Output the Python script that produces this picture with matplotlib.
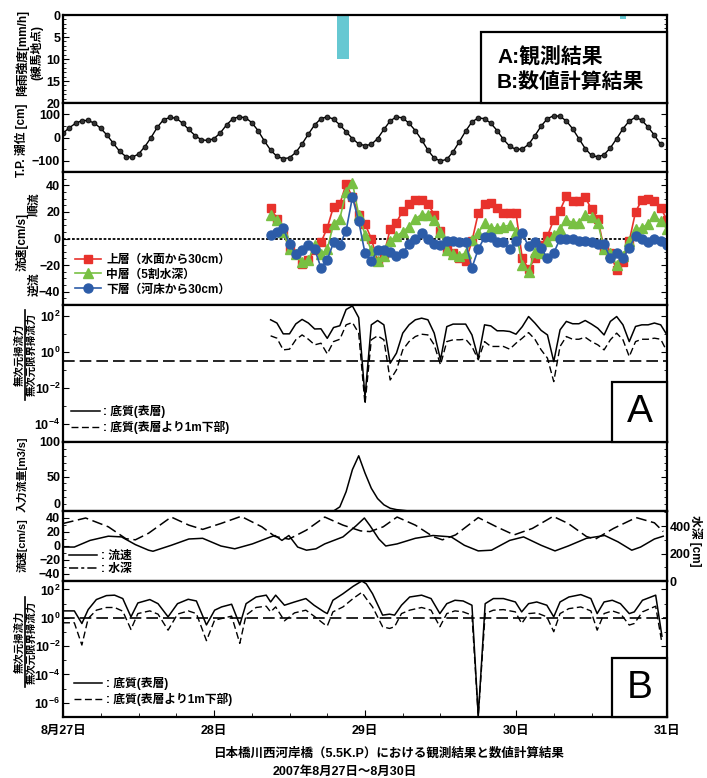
import numpy as np
import matplotlib
matplotlib.use("Agg")
import matplotlib.pyplot as plt
from matplotlib.ticker import MultipleLocator, FixedLocator, NullFormatter, LogLocator
from matplotlib.patches import Rectangle
from matplotlib.lines import Line2D

plt.rcParams['font.family'] = ['Liberation Sans', 'Noto Sans CJK JP']
plt.rcParams['font.weight'] = 'bold'
plt.rcParams['mathtext.fontset'] = 'custom'
plt.rcParams['mathtext.rm'] = 'Liberation Sans:bold'
plt.rcParams['mathtext.bf'] = 'Liberation Sans:bold'

# ---- data (hours from 2007-08-27 00:00) ----
day_ticks = [0, 24, 48, 72, 96]
day_labels = ["8月27日", "28日", "29日", "30日", "31日"]

rain_hours = [44, 45, 89]
rain_mm = [10, 10, 1]

tide_hours = list(range(96))
tide_cm = [19, 42, 62, 73, 74, 62, 40, 10, -25, -60, -83, -86, -72, -40, 0, 45,
           78, 87, 84, 62, 35, 8, -10, -13, -5, 20, 55, 82, 90, 86, 65, 30,
           -15, -55, -82, -92, -88, -65, -28, 15, 55, 82, 90, 80, 55, 25, -5, -28,
           -35, -30, -5, 35, 72, 90, 85, 62, 30, -10, -55, -90, -102, -95, -62, -18,
           28, 68, 85, 82, 62, 30, -8, -38, -52, -50, -30, 8, 50, 82, 95, 92,
           72, 38, -5, -48, -78, -84, -75, -45, -5, 38, 72, 88, 75, 45, 10, -30]

obs_hours = list(range(33, 97))
vel_upper = [23, 15, 5, -8, -12, -19, -16, -9, -3, 8,
             24, 26, 41, 31, 18, 11, 0, -17, -12, 7,
             12, 21, 26, 29, 29, 26, 18, 6, -8, -11,
             -15, -17, -2, 19, 26, 27, 23, 19, 19, 19,
             -15, -23, -15, -5, 2, 14, 21, 32, 28, 28,
             31, 22, 15, -8, -11, -24, -18, -2, 20, 29,
             30, 28, 23, 14]
vel_middle = [18, 14, 5, -8, -12, -18, -16, -5, -12, -8,
              11, 15, 35, 42, 18, 3, -9, -17, -13, -2,
              2, 5, 9, 15, 18, 18, 14, 5, -9, -12,
              -13, -11, -1, 4, 12, 8, 8, 9, 10, 5,
              -20, -25, -10, -11, -2, 3, 7, 14, 12, 12,
              18, 16, 12, -8, -11, -20, -13, -2, 7, 8,
              11, 17, 13, 7]
vel_lower = [3, 5, 8, -4, -12, -9, -5, -8, -22, -16,
             -3, -5, 6, 31, 13, -11, -17, -9, -9, -10,
             -13, -11, -4, 0, 4, 0, -4, -5, -2, -2,
             -3, -3, -22, -8, 1, 1, -3, -3, -8, -2,
             4, -6, -3, -7, -15, -11, 0, 0, 0, -2,
             -2, -3, -4, -4, -15, -11, -15, -7, 2, 0,
             -3, 0, -2, -5]

# observed shear-stress ratio (log10)
a_surface_log10 = [1.78, 1.6, 1.0, 1.0, 1.55, 1.8, 1.6, 1.27, 1.28, 0.75,
                   1.35, 1.45, 2.35, 2.55, 1.9, -2.5, 1.5, 1.74, 1.5, -0.63,
                   -0.07, 1.04, 1.5, 1.78, 1.87, 1.78, 1.04, -0.44, 1.4, 1.54,
                   1.54, 1.54, 0.94, -0.35, 1.5, 1.44, 1.17, 1.17, 1.13, 0.98,
                   1.4, 1.96, 1.6, 1.19, 0.94, -0.54, 1.22, 1.69, 1.56, 1.56,
                   1.74, 1.54, 1.31, 0.94, 1.69, 1.96, 1.5, 0.57, 1.41, 1.5,
                   1.5, 1.6, 1.5, 0.94]
a_deep_log10 = [0.89, 0.76, 0.11, 0.15, 0.67, 0.94, 0.7, 0.39, 0.48, -0.11,
                0.57, 0.7, 1.5, 1.63, 1.04, -2.9, 0.67, 0.89, 0.67, -1.56,
                -1.0, 0.11, 0.57, 0.85, 0.98, 0.94, 0.39, -0.72, 0.57, 0.67,
                0.67, 0.7, 0.3, -0.44, 0.57, 0.3, 0.3, 0.3, 0.15, 0.48,
                0.76, 1.07, 0.7, 0.11, -0.35, -1.65, 0.3, 0.85, 0.7, 0.7,
                0.81, 0.57, 0.39, 0.11, 0.67, 1.04, 0.67, -0.26, 0.57, 0.7,
                0.7, 0.76, 0.7, 0.02]
a_critical = 0.32

inflow_hours = [0, 43, 44, 45, 46, 47, 48, 49, 50, 51, 52, 53, 54, 55, 96]
inflow = [0, 0, 6, 28, 60, 80, 55, 33, 18, 9, 4, 2, 1, 0, 0]

vel_model_hours = [0, 1.8, 4.3, 7.2, 9.3, 11.5, 13.6, 14.3, 17.2, 20, 22.2, 25.1,
                   27.3, 30.1, 33, 33.7, 34.8, 35.9, 37.3, 38.7, 40.2, 41.6, 44.5,
                   46.6, 47.9, 48.8, 50.2, 51.3, 53.1, 56, 58.8, 61.7, 63.8, 66,
                   68.1, 71, 73.2, 76, 78.2, 80.3, 83.2, 86.1, 88.2, 90.4, 91.8,
                   94, 95.4]
vel_model = [-1.5, -1.5, 8, 14, 13, 2, -6, -7.5, 1, 10, 11, 0, -4, 3, 13, 15, 8,
             15, -1.5, -6, -4, 3, 13, 29, 40, 29, 10, 0, 3, 11, 15, 13, 1, -7,
             -6, 8, 13, 1, -7, 0, 11, 15, 6, -6, -1.5, 10, 14]

depth_hours = [0, 3.6, 7.2, 10, 11.5, 13.6, 17.2, 20, 22.2, 25.1, 28.3, 31.6, 33.7,
               35.9, 38.7, 41.6, 44.5, 47.3, 48.8, 50.9, 53.1, 56, 58.8, 60.3,
               62.4, 66, 68.9, 71.7, 74.6, 77.9, 80.3, 83.2, 84.6, 87.5, 91.1,
               94, 95.4]
depth_cm = [419, 459, 395, 308, 300, 348, 466, 407, 376, 419, 471, 395, 324, 305,
            371, 466, 407, 365, 360, 395, 466, 407, 324, 300, 336, 462, 395, 336,
            383, 471, 419, 324, 305, 383, 462, 424, 360]

b_hours = [0, 1.8, 3, 4, 5.3, 6.9, 8.2, 9.5, 10.8, 11.9, 13.8, 15.1, 16.7, 18.2,
           19.9, 21.2, 22.8, 24.1, 25.2, 26.8, 28.1, 29.1, 30.7, 32.3, 33, 33.8,
           35.2, 36.8, 38.6, 39.9, 41.5, 42, 42.9, 44.5, 46.1, 47.5, 48.2, 49.2,
           50.8, 51.9, 52.7, 53.8, 55.1, 57, 58.5, 59.9, 61, 62.3, 63.6, 65, 66,
           67.1, 68.4, 70, 71.9, 72.9, 74, 75.3, 76.9, 78, 79, 80.4, 82.3, 83.9,
           84.9, 86, 87.3, 88.6, 90, 90.8, 92.1, 94.2, 95.2]
b_surface_log10 = [0.49, 0.49, -0.4, 0.58, 1.29, 1.57, 1.6, 1.36, 0.07, 1.05,
                   1.29, 1.0, 0.07, 1.0, 1.31, 1.19, -0.5, 0.54, 0.77, 0.96, -0.5,
                   1.0, 1.47, 1.6, 1.12, 1.6, 0.89, 1.12, 1.36, 0.89, 0.42, 0.3,
                   1.24, 1.7, 2.22, 2.6, 2.4, 1.7, 0.19, 0.26, 0.19, 0.89, 1.47,
                   1.6, 1.36, 0.3, 1.0, 1.24, 1.19, 0.89, -6.95, 1.0, 1.36, 1.36,
                   1.12, 0.42, 1.0, 1.12, 0.89, 0.07, 1.12, 1.47, 1.64, 1.36, 0.3,
                   1.12, 1.24, 1.0, 0.3, 0.42, 1.24, 1.6, -1.3]
b_deep_log10 = [-0.35, -0.35, -1.92, -0.05, 0.54, 0.73, 0.73, 0.47, -0.82, 0.3,
                0.49, 0.26, -0.87, 0.26, 0.49, 0.3, -1.61, -0.16, -0.05, 0.12,
                -1.8, 0.19, 0.73, 0.82, 0.42, 0.77, -0.21, 0.35, 0.54, 0.12, -0.44,
                -0.58, 0.42, 0.77, 1.36, 1.8, 1.36, 0.77, -0.63, -0.75, -0.63, 0.3,
                0.54, 0.73, 0.54, -0.63, 0.3, 0.49, 0.42, 0.19, -6.95, 0.3, 0.54,
                0.58, 0.42, -0.4, 0.3, 0.35, 0.07, -0.98, 0.3, 0.65, 0.77, 0.49,
                -0.87, 0.3, 0.49, 0.3, -0.51, -0.4, 0.42, 0.82, -1.8]
b_critical = 1.0

# ---- layout (pixels) ----
W, H = 707, 778
L, R = 63, 667
bounds = [(15, 103), (103, 172), (172, 305), (305, 442), (442, 511), (511, 581), (581, 717)]


def fx(px):
    return px / W


def fy(py):
    return 1 - py / H


fig = plt.figure(figsize=(W / 100, H / 100), dpi=100)
axes = []
for top, bot in bounds:
    ax = fig.add_axes([fx(L), fy(bot), (R - L) / W, (bot - top) / H])
    ax.set_xlim(0, 96)
    ax.xaxis.set_major_locator(FixedLocator(day_ticks))
    ax.xaxis.set_minor_locator(MultipleLocator(6))
    ax.tick_params(axis='both', which='both', direction='in', labelsize=9,
                   right=True, bottom=False, labelbottom=False, pad=2)
    ax.tick_params(which='major', length=4)
    ax.tick_params(which='minor', length=2)
    for s in ax.spines.values():
        s.set_linewidth(1.6)
    axes.append(ax)
ax1, ax2, ax3, ax4, ax5, ax6, ax7 = axes

dash_long = (0, (7, 3))
dash_curve = (0, (5, 2.5))

# 1. rainfall
ax1.bar(rain_hours, rain_mm, width=1.0, color='#66C8D2', align='center')
ax1.set_ylim(20, 0)
ax1.yaxis.set_major_locator(MultipleLocator(5))
ax1.yaxis.set_minor_locator(MultipleLocator(1))

# 2. tide
ax2.plot(tide_hours, tide_cm, color='black', lw=1.0, marker='o', ms=3.5,
         mfc='#333333', mec='black', mew=0.6)
ax2.set_ylim(-150, 150)
ax2.yaxis.set_major_locator(MultipleLocator(100))
ax2.yaxis.set_minor_locator(MultipleLocator(50))

# 3. observed velocity
ax3.axhline(0, color='black', ls=(0, (1.5, 1)), lw=1.3)
ax3.plot(obs_hours, vel_upper, color='#E8322C', lw=1.2, marker='s', ms=6,
         label='上層（水面から30cm）')
ax3.plot(obs_hours, vel_middle, color='#78C043', lw=1.2, marker='^', ms=6.5,
         label='中層（5割水深）')
ax3.plot(obs_hours, vel_lower, color='#2C5CA8', lw=1.2, marker='o', ms=6.5,
         label='下層（河床から30cm）')
ax3.set_ylim(-50, 50)
ax3.yaxis.set_major_locator(MultipleLocator(20))
ax3.yaxis.set_minor_locator(MultipleLocator(5))
ax3.legend(loc='lower left', frameon=False, fontsize=8.5, handlelength=2.2,
           handletextpad=0.4, labelspacing=0.25, borderaxespad=0.4,
           bbox_to_anchor=(0.005, 0.0))


def log_axis(ax, lo, exps):
    ax.set_yscale('log')
    ax.set_ylim(10.0 ** lo, 10.0 ** 2.6)
    ax.yaxis.set_major_locator(FixedLocator([10.0 ** e for e in exps]))
    ax.set_yticklabels([r'$\mathbf{10^{%d}}$' % e for e in exps])
    ax.yaxis.set_minor_locator(LogLocator(base=10, subs=(1.0,), numticks=20))
    ax.yaxis.set_minor_formatter(NullFormatter())


# 4. observed ratio (A)
ax4.plot(obs_hours, 10.0 ** np.array(a_surface_log10), color='black', lw=1.1,
         label=': 底質(表層)')
ax4.plot(obs_hours, 10.0 ** np.array(a_deep_log10), color='black', lw=1.0,
         ls=dash_curve, label=': 底質(表層より1m下部)')
ax4.axhline(a_critical, color='black', lw=1.2, ls=dash_long)
log_axis(ax4, -5, [2, 0, -2, -4])
ax4.legend(loc='lower left', frameon=False, fontsize=8.5, handlelength=2.4,
           handletextpad=0.3, labelspacing=0.25, borderaxespad=0.3)

# 5. inflow
ax5.plot(inflow_hours, inflow, color='black', lw=1.1)
ax5.set_ylim(0, 100)
ax5.yaxis.set_major_locator(FixedLocator([0, 50, 100]))
ax5.set_yticklabels(['0', '50', '100'])
ax5.yaxis.set_minor_locator(MultipleLocator(10))
ax5.yaxis.get_major_ticks()[0].label1.set_va('bottom')

# 6. model velocity / depth
ax6.plot(vel_model_hours, vel_model, color='black', lw=1.1, label=': 流速')
ax6.set_ylim(-50, 50)
ax6.yaxis.set_major_locator(MultipleLocator(20))
ax6.yaxis.set_minor_locator(MultipleLocator(10))
ax6.tick_params(right=False)
ax6r = ax6.twinx()
ax6r.plot(depth_hours, depth_cm, color='black', lw=1.1, ls=dash_long)
ax6r.set_ylim(0, 510)
ax6r.yaxis.set_major_locator(MultipleLocator(200))
ax6r.yaxis.set_minor_locator(MultipleLocator(100))
ax6r.tick_params(axis='y', which='both', direction='in', labelsize=9, pad=2)
ax6r.tick_params(which='major', length=4)
ax6r.tick_params(which='minor', length=2)
ax6.plot([], [], color='black', lw=1.1, ls=(0, (6, 2, 2, 2)), label=': 水深')
ax6.legend(loc='lower left', frameon=False, fontsize=8.5, handlelength=2.4,
           handletextpad=0.3, labelspacing=0.1, borderaxespad=0.1)

# 7. model ratio (B)
ax7.plot(b_hours, 10.0 ** np.array(b_surface_log10), color='black', lw=1.1,
         label=': 底質(表層)')
ax7.plot(b_hours, 10.0 ** np.array(b_deep_log10), color='black', lw=1.0,
         ls=dash_curve, label=': 底質(表層より1m下部)')
ax7.axhline(b_critical, color='black', lw=1.2, ls=dash_long)
log_axis(ax7, -7, [2, 0, -2, -4, -6])
ax7.legend(loc='lower left', frameon=False, fontsize=8.5, handlelength=2.4,
           handletextpad=0.3, labelspacing=0.25, borderaxespad=0.5)
ax7.tick_params(axis='x', which='both', bottom=True, labelbottom=True)
ax7.set_xticklabels(day_labels, fontsize=9)
ax7.tick_params(axis='x', which='major', length=5, pad=6)
ax7.tick_params(axis='x', which='minor', length=3)

# ---- y labels ----
lab = dict(rotation=90, ha='center', va='center', fontsize=8.5, fontweight='bold')
fig.text(fx(22), fy(53), '降雨強度[mm/h]', **lab)
fig.text(fx(37), fy(53), '(練馬地点)', **lab)
fig.text(fx(21), fy(140), 'T.P. 潮位 [cm]', **lab)
fig.text(fx(22), fy(242), '流速[cm/s]', **lab)
fig.text(fx(35), fy(204), '順流', **lab)
fig.text(fx(35), fy(284), '逆流', **lab)
fig.text(fx(22), fy(474), '入力流量[m3/s]', rotation=90, ha='center',
         va='center', fontsize=7.8, fontweight='bold')
fig.text(fx(22), fy(545), '流速[cm/s]', rotation=90, ha='center',
         va='center', fontsize=7.8, fontweight='bold')
fig.text(fx(696), fy(541), '水深 [cm]', rotation=270, ha='center', va='center',
         fontsize=8.5, fontweight='bold')

frac = dict(rotation=90, ha='center', va='center', fontsize=7.5, fontweight='bold')


def frac_label(yc):
    fig.text(fx(19), fy(yc), '無次元掃流力', **frac)
    fig.text(fx(31.5), fy(yc), '無次元限界掃流力', **frac)
    fig.add_artist(Line2D([fx(25.3), fx(25.3)], [fy(yc - 45), fy(yc + 45)],
                          color='black', lw=1.2, transform=fig.transFigure))


frac_label(355)
frac_label(642)

# ---- boxes ----
fig.add_artist(Rectangle((fx(481), fy(103)), (667 - 481) / W, (103 - 32) / H,
                         transform=fig.transFigure, fill=True, fc='white',
                         ec='black', lw=1.6, zorder=5))
fig.text(fx(497), fy(57), 'A:観測結果', fontsize=15, fontweight='bold',
         va='center', ha='left', zorder=6)
fig.text(fx(497), fy(82), 'B:数値計算結果', fontsize=15, fontweight='bold',
         va='center', ha='left', zorder=6)

for top, bot, letter in [(382, 442, 'A'), (658, 717, 'B')]:
    fig.add_artist(Rectangle((fx(612), fy(bot)), (667 - 612) / W, (bot - top) / H,
                             transform=fig.transFigure, fill=True, fc='white',
                             ec='black', lw=1.6, zorder=5))
    fig.text(fx(640), fy((top + bot) / 2), letter, fontsize=28,
             fontweight='normal', family='Liberation Sans',
             ha='center', va='center', zorder=6)

# ---- caption ----
fig.text(fx(213), fy(754), '日本橋川西河岸橋（5.5K.P）における観測結果と数値計算結果',
         fontsize=9, fontweight='bold', ha='left', va='center')
fig.text(fx(273), fy(772), '2007年8月27日～8月30日', fontsize=9,
         fontweight='bold', ha='left', va='center')

fig.savefig('out.png', dpi=100)
